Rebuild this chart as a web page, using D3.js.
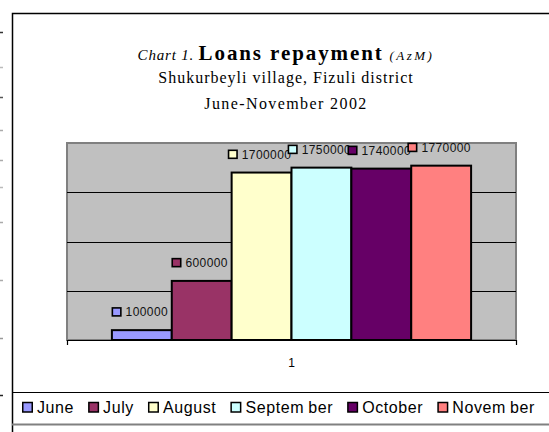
<!DOCTYPE html>
<html>
<head>
<meta charset="utf-8">
<script src="https://cdn.jsdelivr.net/npm/d3@7"></script>
<style>
  html, body { margin: 0; padding: 0; background: #fff; }
  svg { display: block; }
</style>
</head>
<body>
<svg id="chart" width="549" height="432"></svg>
<script>
const categories = ["1"]
const months = ["June", "July", "August", "September", "October", "November"]
const repaid = [100000, 600000, 1700000, 1750000, 1740000, 1770000]
const barColors = ["#9999FF", "#993366", "#FFFFCC", "#CCFFFF", "#660066", "#FF8080"]
const gridTicks = [500000, 1000000, 1500000]

const svg = d3.select("#chart")
const serif = "'Liberation Serif', 'Times New Roman', serif"
const sans = "'Liberation Sans', Arial, sans-serif"

// page scraps at the very left edge
const scraps = [[32, "#333"], [67, "#bbb"], [97, "#555"], [130, "#aaa"], [160, "#aaa"],
  [187, "#bbb"], [222, "#aaa"], [280, "#aaa"], [338, "#999"], [395, "#222"]]
scraps.forEach(([yy, c]) => {
  svg.append("line").attr("x1", 0).attr("x2", 3).attr("y1", yy + 0.5).attr("y2", yy + 0.5)
    .attr("stroke", c).attr("stroke-width", 1.5)
})

// chart frame
svg.append("rect")
  .attr("x", 12.5).attr("y", 13.5).attr("width", 560).attr("height", 440)
  .attr("fill", "none").attr("stroke", "#000").attr("stroke-width", 1.5)

// title
const cx = 286
const t1 = svg.append("text")
  .attr("x", cx).attr("y", 60).attr("text-anchor", "middle")
  .style("font-family", serif)
t1.append("tspan").text("Chart 1. ")
  .style("font-style", "italic").style("font-size", "15px").style("letter-spacing", "0.8px")
t1.append("tspan").text("Loans repayment")
  .style("font-weight", "bold").style("font-size", "21px").style("letter-spacing", "1.9px")
t1.append("tspan").text(" (AzM)")
  .style("font-style", "italic").style("font-size", "13px").style("letter-spacing", "2.5px")

svg.append("text")
  .attr("x", cx).attr("y", 83).attr("text-anchor", "middle")
  .style("font-family", serif).style("font-size", "16px").style("letter-spacing", "1px")
  .text("Shukurbeyli village, Fizuli district")

svg.append("text")
  .attr("x", cx).attr("y", 109).attr("text-anchor", "middle")
  .style("font-family", serif).style("font-size", "16px").style("letter-spacing", "1.4px")
  .text("June-November 2002")

// plot area
const plot = { left: 67, right: 516, top: 143, bottom: 340 }

const x0 = d3.scaleBand().domain(categories)
  .range([plot.left, plot.right]).paddingInner(0).paddingOuter(0.125)
const x1 = d3.scaleBand().domain(months).range([0, x0.bandwidth()])
const y = d3.scaleLinear().domain([0, 2000000]).range([plot.bottom, plot.top])

svg.append("rect")
  .attr("x", plot.left).attr("y", plot.top)
  .attr("width", plot.right - plot.left).attr("height", plot.bottom - plot.top)
  .attr("fill", "#C0C0C0").attr("stroke", "#808080").attr("stroke-width", 2)

svg.append("g").selectAll("line").data(gridTicks).join("line")
  .attr("x1", plot.left).attr("x2", plot.right)
  .attr("y1", d => Math.round(y(d)) + 0.5).attr("y2", d => Math.round(y(d)) + 0.5)
  .attr("stroke", "#000").attr("stroke-width", 1)

// bars
const group = svg.append("g")
  .selectAll("g").data(categories).join("g")
  .attr("transform", d => `translate(${x0(d)},0)`)

group.selectAll("rect").data(months.map((m, i) => ({ m, v: repaid[i], c: barColors[i] })))
  .join("rect")
  .attr("x", d => x1(d.m)).attr("width", x1.bandwidth())
  .attr("y", d => y(d.v)).attr("height", d => y(0) - y(d.v))
  .attr("fill", d => d.c).attr("stroke", "#000").attr("stroke-width", 2)

// category axis
const axis = svg.append("g")
  .attr("transform", `translate(0,${plot.bottom})`)
  .call(d3.axisBottom(x0).tickSize(0).tickSizeOuter(5).tickPadding(18))
axis.select(".domain").attr("stroke", "#000").attr("stroke-width", 1.2)
axis.selectAll("text")
  .style("font-family", sans).style("font-size", "12px").attr("fill", "#000")

// data labels with legend keys
const labels = svg.append("g")
months.forEach((m, i) => {
  const bx = x0(categories[0]) + x1(m) + x1.bandwidth() / 2 - 2
  const by = y(repaid[i]) - 18
  const lg = labels.append("g")
  const txt = lg.append("text")
    .attr("y", by + 4.3)
    .style("font-family", sans).style("font-size", "12px").style("letter-spacing", "0.4px")
    .attr("fill", "#111")
    .text(repaid[i])
  const tw = txt.node().getComputedTextLength()
  const start = bx - (10 + 4 + tw) / 2
  txt.attr("x", start + 14)
  lg.insert("rect", "text")
    .attr("x", start + 0.75).attr("y", by - 4.25).attr("width", 8.5).attr("height", 8)
    .attr("fill", barColors[i]).attr("stroke", "#000").attr("stroke-width", 1.6)
})

// legend
svg.append("line").attr("x1", 12).attr("x2", 549).attr("y1", 392.5).attr("y2", 392.5)
  .attr("stroke", "#000").attr("stroke-width", 1)
svg.append("line").attr("x1", 12).attr("x2", 549).attr("y1", 424.5).attr("y2", 424.5)
  .attr("stroke", "#808080").attr("stroke-width", 2)

// the source PDF splits "Septem ber" / "Novem ber" slightly; keep the word whole
const splitWord = m => {
  const k = m.indexOf("ber")
  return m.length > 7 && k > 0 ? [m.slice(0, k), m.slice(k)] : [m]
}

const legend = svg.append("g")
let lx = 22
months.forEach((m, i) => {
  legend.append("rect")
    .attr("x", lx + 0.75).attr("y", 402.5).attr("width", 9.5).attr("height", 9.5)
    .attr("fill", barColors[i]).attr("stroke", "#000").attr("stroke-width", 1.5)
  const t = legend.append("text")
    .attr("x", lx + 15).attr("y", 412.5)
    .style("font-family", sans).style("font-size", "16px").style("letter-spacing", "0.6px")
    .attr("fill", "#000")
  const parts = splitWord(m)
  parts.forEach((p, j) => t.append("tspan").attr("dx", j ? 4 : 0).text(p))
  lx += 15 + t.node().getBBox().width + 14
})
</script>
</body>
</html>
